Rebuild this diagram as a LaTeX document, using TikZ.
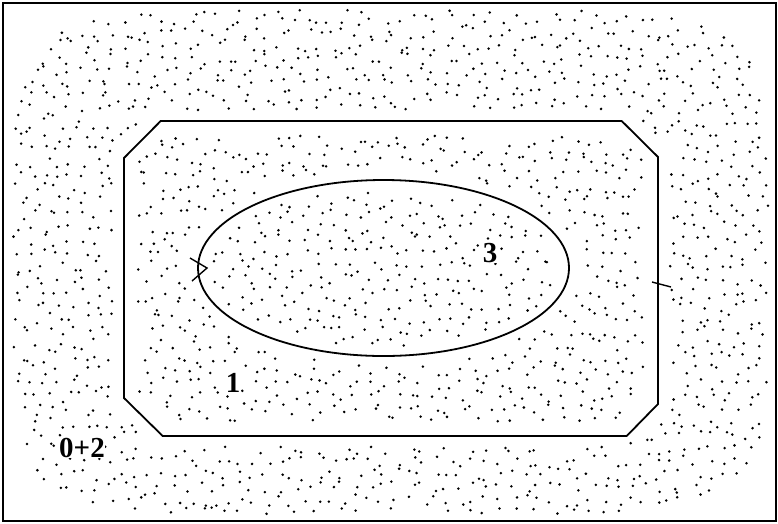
\documentclass[tikz,border=0pt]{standalone}
\usepackage{fontspec}
\setmainfont{Liberation Serif}
\begin{document}
\begin{tikzpicture}[x=1pt,y=-1pt,
  outline/.style={line width=1.8pt},
  tick/.style={line width=1.4pt},
  lbl/.style={font=\fontsize{29}{29}\selectfont\bfseries, inner sep=0.5pt, fill=white}]
\useasboundingbox (0,0) rectangle (778,523);
\fill[white] (0,0) rectangle (778,523);
\pgfmathsetseed{2718}
\foreach \gx in {0,...,59}{
 \foreach \gy in {0,...,40}{
  \pgfmathsetmacro\px{6.5+13*\gx+(rnd-0.5)*12}
  \pgfmathsetmacro\py{6.5+13*\gy+(rnd-0.5)*12}
  \pgfmathsetmacro\dx{abs(\px-391)}
  \pgfmathsetmacro\dy{abs(\py-278.5)}
  \pgfmathsetmacro\u{(\px-383.5)/100}
  \pgfmathsetmacro\v{(\py-268)/100}
  \pgfmathsetmacro\ea{\u*\u/3.08+\v*\v/0.6084}
  \pgfmathsetmacro\eb{\u*\u/3.8416+\v*\v/0.9604}
  \pgfmathsetmacro\s{abs(\px-390)/378}
  \pgfmathsetmacro\t{abs(\py-262)/252}
  \pgfmathsetmacro\se{\s*\s*\s*\s*\s*\s+\t*\t*\t*\t*\t*\t}
  \pgfmathtruncatemacro\ok{or(\ea<1, or(and(\eb>1, and(\dx<253, and(\dy<143, \dx+\dy<370))), and(\se<1, or(\dx>279, or(\dy>168, \dx+\dy>404)))))}
  \ifnum\ok=1 \fill (\px,\py) circle (1.4pt); \fi
 }
}
\draw[outline] (3,3) rectangle (776,521);
\draw[outline] (160.7,121) -- (621.7,121) -- (658,157) -- (658,404) -- (626.7,436) -- (162.7,436) -- (124,398) -- (124,158) -- cycle;
\draw[outline] (383.5,268) ellipse [x radius=185.5pt, y radius=88pt];
\draw[tick] (190,258) -- (207,268) -- (192,281);
\draw[tick] (652,282) -- (671,287);
\node[lbl] (l3) at (490,253) {3};
\node[lbl] (l1) at (233,383) {1};
\node[lbl] (l02) at (82,448) {0+2};
\end{tikzpicture}
\end{document}
